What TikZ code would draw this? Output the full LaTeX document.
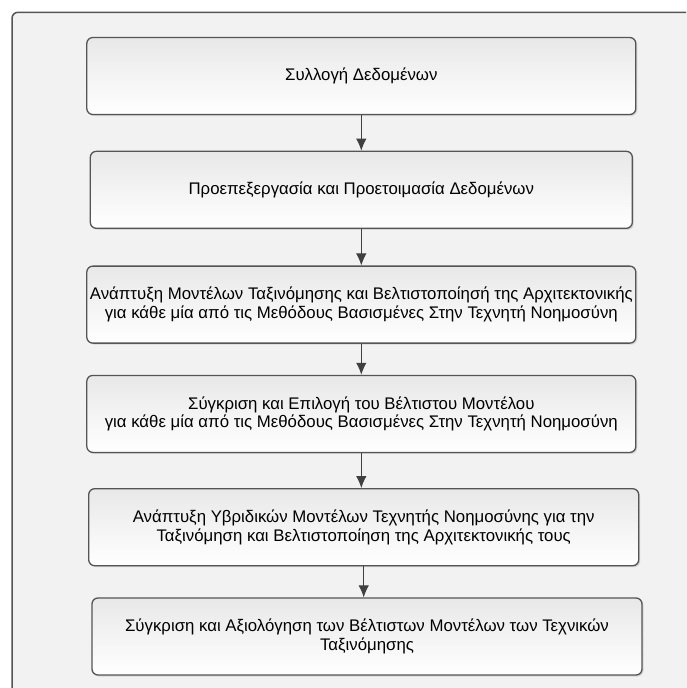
\documentclass[tikz,border=0pt]{standalone}
\usepackage{fontspec}
\setmainfont{Liberation Sans}
\usetikzlibrary{positioning, shadows, arrows.meta}
\definecolor{framegray}{RGB}{85, 85, 85}
\definecolor{pagegray}{RGB}{242, 242, 242}

\begin{document}
\begin{tikzpicture}[x=1pt, y=1pt,
                    node distance=35pt,
                    stepbox/.style={draw=framegray, line width=1.3pt, rounded corners=6pt, top color=black!9, bottom color=white, align=center, minimum width=549pt, minimum height=77pt, inner sep=2pt, font=\fontsize{16.8}{18.8}\selectfont, drop shadow={shadow xshift=1.5pt, shadow yshift=-1.5pt, opacity=0.25}},
                    arrow/.style={-{Latex[length=12pt, width=10.5pt]}, line width=1pt, draw=black!75}
                ]
                \useasboundingbox (0,0) rectangle (686,-688);

                % --- frame ---
                \fill[pagegray, rounded corners=6pt] (12,-700) rectangle (700,-12.3);
                \draw[framegray, line width=1.5pt, rounded corners=6pt] (12,-688) -- (12,-12.3) -- (686,-12.3);

                % --- steps ---
                \node[stepbox] (collect) at (361.3,-76) {Συλλογή Δεδομένων};
                \node[stepbox, minimum width=542pt, below=35.5pt of collect] (prep) {Προεπεξεργασία και Προετοιμασία Δεδομένων};
                \node[stepbox, below=36.5pt of prep] (develop) {Ανάπτυξη Μοντέλων Ταξινόμησης και Βελτιστοποίησή της Αρχιτεκτονικής\\για κάθε μία από τις Μεθόδους Βασισμένες Στην Τεχνητή Νοημοσύνη};
                \node[stepbox, below=31pt of develop] (compare) {Σύγκριση και Επιλογή του Βέλτιστου Μοντέλου\\για κάθε μία από τις Μεθόδους Βασισμένες Στην Τεχνητή Νοημοσύνη};
                \node[stepbox, minimum width=550pt, below=35pt of compare, xshift=2.4pt] (hybrid) {Ανάπτυξη Υβριδικών Μοντέλων Τεχνητής Νοημοσύνης για την\\Ταξινόμηση και Βελτιστοποίηση της Αρχιτεκτονικής τους};
                \node[stepbox, minimum width=550pt, below=31pt of hybrid, xshift=3.3pt] (evaluate) {Σύγκριση και Αξιολόγηση των Βέλτιστων Μοντέλων των Τεχνικών\\Ταξινόμησης};

                \draw[arrow] (collect) -- (prep);
                \draw[arrow] (prep) -- (develop);
                \draw[arrow] (develop) -- (compare);
                \draw[arrow] (compare.south) -- (compare.south |- hybrid.north);
                \draw[arrow] (hybrid.south) -- (hybrid.south |- evaluate.north);

                \end{tikzpicture}
\end{document}
